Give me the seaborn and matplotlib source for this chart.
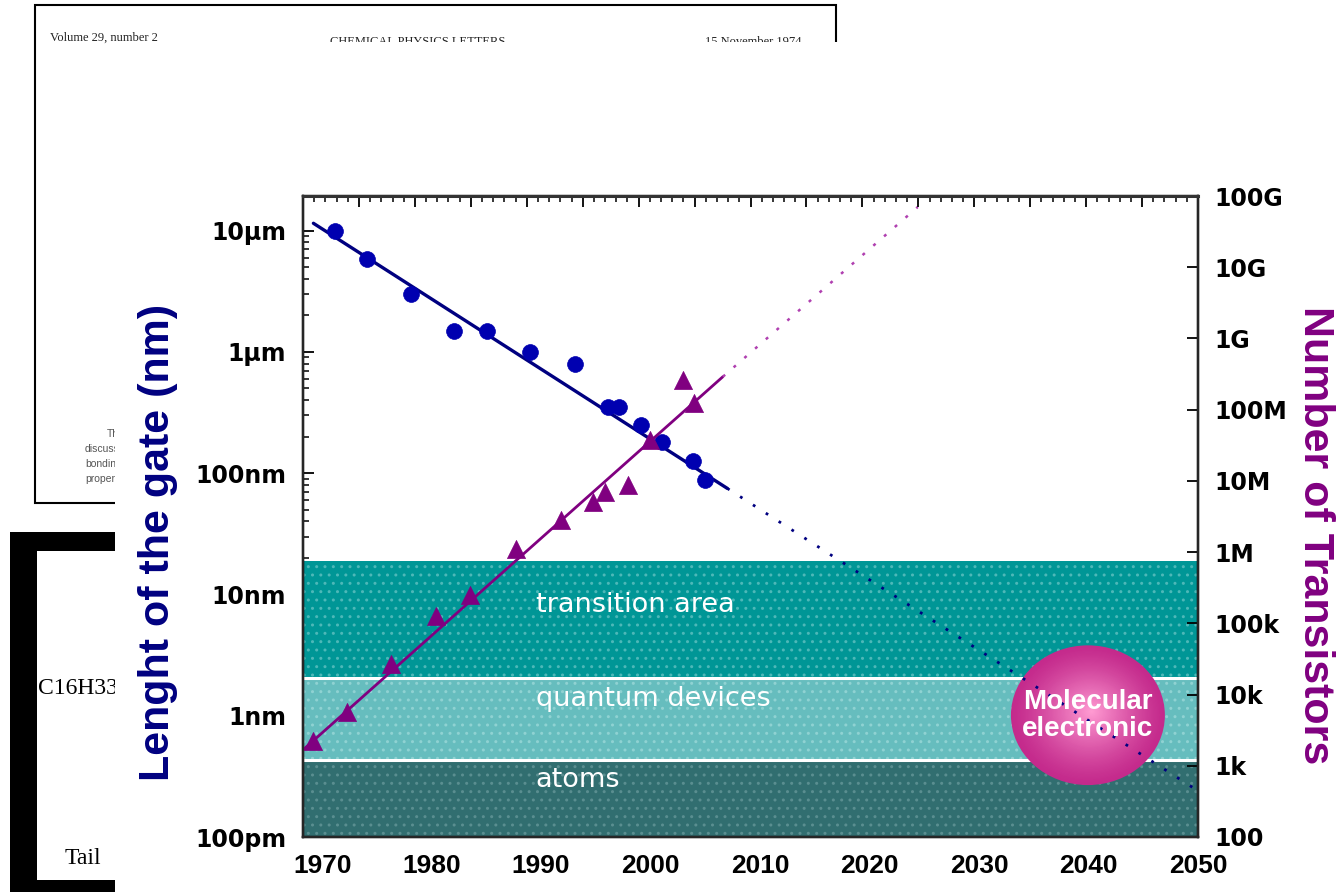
import numpy as np
import matplotlib
matplotlib.use("Agg")
import matplotlib.pyplot as plt
import matplotlib.colors as mcolors
from matplotlib.patches import Rectangle, Ellipse
from matplotlib.ticker import MultipleLocator, LogLocator, NullFormatter
import seaborn as sns

# ---------------- data ----------------
gate_years = [1971.2, 1974.1, 1978.1, 1982.0, 1985.1, 1989.0, 1993.1,
              1996.1, 1997.1, 1999.1, 2001.0, 2003.9, 2005.0]
gate_nm = [10000, 5800, 3000, 1500, 1500, 1000, 800, 350, 350, 250, 180, 127, 88]
gate_fit_years = [1969.2, 2007.0]
gate_fit_nm = [11500, 75]
gate_proj_years = [2007.0, 2050.0]
gate_proj_nm = [75, 0.24]

trans_years = [1969.2, 1972.3, 1976.3, 1980.4, 1983.5, 1987.7, 1991.8,
               1994.7, 1995.8, 1997.9, 1999.9, 2003.0, 2004.0]
trans_count = [2250, 5700, 27000, 128000, 250000, 1.1e6, 2.8e6,
               5.1e6, 7.0e6, 8.8e6, 3.8e7, 2.6e8, 1.26e8]
trans_fit_years = [1968.3, 2006.6]
trans_fit_count = [1700, 2.9e8]
trans_proj_years = [2006.6, 2024.4]
trans_proj_count = [2.9e8, 7.0e10]

band_names = ["transition area", "quantum devices", "atoms"]
band_top_nm = [18.8, 2.03, 0.43]
band_bottom_nm = [2.03, 0.43, 0.1]
band_label_nm = [8.2, 1.37, 0.295]

year_ticks = [1970, 1980, 1990, 2000, 2010, 2020, 2030, 2040, 2050]
gate_tick_values = [0.1, 1, 10, 100, 1000, 10000]
gate_tick_labels = ["100pm", "1nm", "10nm", "100nm", "1\u00b5m", "10\u00b5m"]
count_tick_values = [1e2, 1e3, 1e4, 1e5, 1e6, 1e7, 1e8, 1e9, 1e10, 1e11]
count_tick_labels = ["100", "1k", "10k", "100k", "1M", "10M", "100M", "1G", "10G", "100G"]

# ---------------- style ----------------
sns.set_style("white")
plt.rcParams['font.family'] = ['DejaVu Sans']
plt.rcParams['text.color'] = 'black'
plt.rcParams['xtick.color'] = 'black'
plt.rcParams['ytick.color'] = 'black'
LIB = ['Liberation Sans', 'DejaVu Sans']
SERIF = ['Liberation Serif', 'DejaVu Serif']
NAVY = '#000080'
BLUE = '#0000B0'
PURPLE = '#800080'
band_colors = ['#009696', '#66BDBE', '#316E70']
band_dots = ['#4DB8B8', '#8FD2D2', '#5A8E90']

fig = plt.figure(figsize=(13.37, 8.92), dpi=100)
fig.patch.set_facecolor('white')

# ---------------- background collage (pixel coordinates) ----------------
bg = fig.add_axes([0, 0, 1, 1], zorder=-10)
bg.set_xlim(0, 1337)
bg.set_ylim(892, 0)
bg.axis('off')
bg.add_patch(Rectangle((35, 5), 801, 498, fill=False, edgecolor='black', lw=1.5))
bg.text(50, 41, "Volume 29, number 2", family=SERIF, fontsize=9, va='baseline', color='#222222')
bg.text(330, 45, "CHEMICAL PHYSICS LETTERS", family=SERIF, fontsize=9, va='baseline', color='#222222')
bg.text(705, 45, "15 November 1974", family=SERIF, fontsize=9, va='baseline', color='#222222')
for yy, txt, xx in [(437, "The", 107), (452, "discussed", 85), (467, "bonding", 85), (482, "properties", 85)]:
    bg.text(xx, yy, txt, family=LIB, fontsize=7.5, color='#555555', va='baseline')
bg.add_patch(Rectangle((10, 532), 27, 360, color='black', lw=0))
bg.add_patch(Rectangle((10, 532), 110, 19, color='black', lw=0))
bg.add_patch(Rectangle((10, 880), 110, 12, color='black', lw=0))
bg.text(38, 694, "C16H33", family=SERIF, fontsize=17, va='baseline')
bg.text(65, 864, "Tail", family=SERIF, fontsize=17, va='baseline')
bg.add_patch(Rectangle((115, 42), 1230, 860, color='white', lw=0, zorder=5))

# ---------------- main axes ----------------
ax = fig.add_axes([303 / 1337, 1 - 837 / 892, 895 / 1337, 641 / 892])
ax.set_yscale('log')
ax.set_xlim(1968.25, 2050)
ax.set_ylim(0.1, 19300)

for top, bot, col, dc in zip(band_top_nm, band_bottom_nm, band_colors, band_dots):
    ax.axhspan(bot, top, facecolor=col, edgecolor=dc, hatch='..', lw=0, zorder=1)
for b in band_bottom_nm[:-1]:
    ax.axhline(b, color='white', lw=2.2, zorder=1.5)
for name, yv in zip(band_names, band_label_nm):
    ax.text(1989.5, yv, name, color='white', fontsize=19.5, va='center', ha='left', zorder=2)

# molecular electronic sphere (radial gradient)
edge = np.array(mcolors.to_rgb('#C42A8C'))
centre = np.array(mcolors.to_rgb('#FF9AD2'))
n = 60
for i in range(n):
    t = i / (n - 1)
    f = 1 - 0.98 * t
    c = edge + (centre - edge) * (t ** 1.3)
    ax.add_patch(Ellipse((0.877 + 0.004 * t, 0.19 + 0.006 * t), 0.172 * f, 0.218 * f,
                         transform=ax.transAxes, facecolor=c, edgecolor='none', zorder=2.2))
ax.text(0.877, 0.19, "Molecular\nelectronic", transform=ax.transAxes, color='white',
        fontsize=20, fontweight='bold', family=LIB,
        ha='center', va='center', linespacing=1.05, zorder=6)

sns.lineplot(x=gate_fit_years, y=gate_fit_nm, ax=ax, color=NAVY, lw=2.4, zorder=3)
sns.lineplot(x=gate_proj_years, y=gate_proj_nm, ax=ax, color=NAVY, lw=2.0,
             linestyle=(0, (1, 4.5)), zorder=3)
sns.scatterplot(x=gate_years, y=gate_nm, ax=ax, color=BLUE, s=130, marker='o',
                edgecolor=BLUE, linewidth=0.5, zorder=4)

# x axis
ax.set_xticks(year_ticks, labels=[str(y) for y in year_ticks], family=LIB,
              fontweight='bold', fontsize=19)
ax.xaxis.set_minor_locator(MultipleLocator(2))
ax.tick_params(axis='x', which='major', direction='in', length=8, width=1.3, pad=12,
               top=False, bottom=True, labelcolor='black')
ax.tick_params(axis='x', which='minor', direction='in', length=4.5, width=1.2,
               top=False, bottom=True)

# left y axis
ax.set_yticks(gate_tick_values, labels=gate_tick_labels, fontweight='bold', fontsize=17)
ax.yaxis.set_minor_locator(LogLocator(base=10, subs=np.arange(2, 10)))
ax.yaxis.set_minor_formatter(NullFormatter())
ax.tick_params(axis='y', which='major', direction='in', length=8, width=1.3, pad=12,
               left=True, right=False, labelcolor='black')
ax.tick_params(axis='y', which='minor', direction='in', length=4.5, width=1.1,
               left=True, right=False)
ax.text(-0.162, 0.46, "Lenght of the gate (nm)", transform=ax.transAxes, rotation=90,
        rotation_mode='anchor', ha='center', va='center', color=NAVY, fontsize=31,
        fontweight='bold', family=LIB)
for s in ax.spines.values():
    s.set_linewidth(1.6)
    s.set_color('black')

# right axis (transistors)
ax2 = ax.twinx()
ax2.set_yscale('log')
ax2.set_ylim(1e2, 1e11)
sns.lineplot(x=trans_fit_years, y=trans_fit_count, ax=ax2, color=PURPLE, lw=2.0, zorder=3)
sns.lineplot(x=trans_proj_years, y=trans_proj_count, ax=ax2, color='#B040B0', lw=1.8,
             linestyle=(0, (1.2, 4.5)), zorder=3)
sns.scatterplot(x=trans_years, y=trans_count, ax=ax2, color=PURPLE, s=170, marker='^',
                edgecolor=PURPLE, linewidth=0.5, zorder=4)
ax2.set_yticks(count_tick_values, labels=count_tick_labels, fontweight='bold', fontsize=17)
ax2.yaxis.set_minor_locator(LogLocator(base=10, subs=np.arange(2, 10)))
ax2.yaxis.set_minor_formatter(NullFormatter())
ax2.tick_params(axis='y', which='major', direction='in', length=8, width=1.3, pad=12,
                right=True, left=False, labelcolor='black')
ax2.tick_params(axis='y', which='minor', direction='in', length=4.5, width=1.1,
                right=True, left=False)
ax2.set_ylabel("")
ax2.text(1.131, 0.471, "Number of Transistors", transform=ax.transAxes, rotation=270,
         rotation_mode='anchor', ha='center', va='center', color=PURPLE, fontsize=31,
         fontweight='bold', family=LIB)
for s in ax2.spines.values():
    s.set_linewidth(1.6)

# top ruler ticks
ax3 = ax.twiny()
ax3.set_xlim(0, 16)
ax3.xaxis.set_major_locator(MultipleLocator(1))
ax3.xaxis.set_minor_locator(MultipleLocator(0.2))
ax3.tick_params(axis='x', which='major', direction='in', length=8, width=1.3,
                labeltop=False, top=True)
ax3.tick_params(axis='x', which='minor', direction='in', length=4.5, width=1.1, top=True)
for s in ax3.spines.values():
    s.set_linewidth(1.6)
ax3.spines['top'].set_linewidth(2.2)
ax3.spines['top'].set_color('#333333')

ax.set_xlabel("")
ax.set_ylabel("")
fig.savefig("out.png", dpi=100)
